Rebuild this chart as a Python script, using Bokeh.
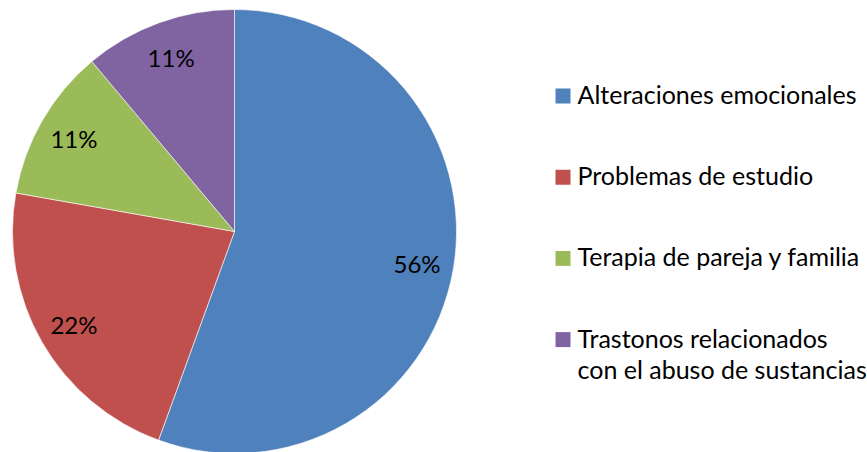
import numpy as np
from bokeh.plotting import figure
from bokeh.models import Range1d, ColumnDataSource
from bokeh.core.properties import value
from bokeh.embed import file_html
from bokeh.resources import INLINE

# ---- data ----
categories = ["Alteraciones emocionales",
              "Problemas de estudio",
              "Terapia de pareja y familia",
              "Trastonos relacionados\ncon el abuso de sustancias"]
counts = [5, 2, 1, 1]
colors = ["#4F81BD", "#C0504D", "#9BBB59", "#8064A2"]

# ---- layout ----
W, H = 867, 452
FONT = "Lato"
FS_PIE = "24px"
FS_LEG = "25px"

p = figure(width=W, height=H, x_range=Range1d(0, W), y_range=Range1d(0, H),
           output_backend="svg", toolbar_location=None, min_border=0,
           x_axis_location=None, y_axis_location=None)
p.grid.visible = False
p.outline_line_color = None
p.background_fill_color = "white"
p.border_fill_color = "white"

cx, cy, R = 234, H - 231, 222

vals = np.array(counts, dtype=float)
frac = vals / vals.sum()
cum = np.concatenate([[0], np.cumsum(frac)])
start = np.pi / 2 - 2 * np.pi * cum[:-1]
end = np.pi / 2 - 2 * np.pi * cum[1:]
mid = (start + end) / 2

src = ColumnDataSource(dict(start=start, end=end, color=colors))
p.wedge(x=cx, y=cy, radius=R, start_angle="start", end_angle="end",
        direction="clock", fill_color="color", line_color="white",
        line_width=0.6, source=src)

# percentage labels
pct = [f"{round(f * 100):d}%" for f in frac]
lr = 0.835 * R
p.text(x=cx + lr * np.cos(mid), y=cy + lr * np.sin(mid), text=pct,
       text_font=value(FONT), text_font_size=FS_PIE, text_color="black",
       text_align="center", text_baseline="middle")

# legend
sq_x = 562.5
tx = 577
row_y = [H - 95.5 - i * 81.2 for i in range(len(categories))]
lx, ly, lt = [], [], []
for i, cat in enumerate(categories):
    for j, line in enumerate(cat.split("\n")):
        lx.append(tx)
        ly.append(row_y[i] + 2 - j * 31.5)
        lt.append(line)
p.rect(x=[sq_x] * len(categories), y=row_y, width=15, height=15,
       fill_color=colors, line_color=None)
p.text(x=lx, y=ly, text=lt, text_font=value(FONT), text_font_size=FS_LEG,
       text_color="black", text_align="left", text_baseline="middle")

open("out.html", "w").write(file_html(p, INLINE))
